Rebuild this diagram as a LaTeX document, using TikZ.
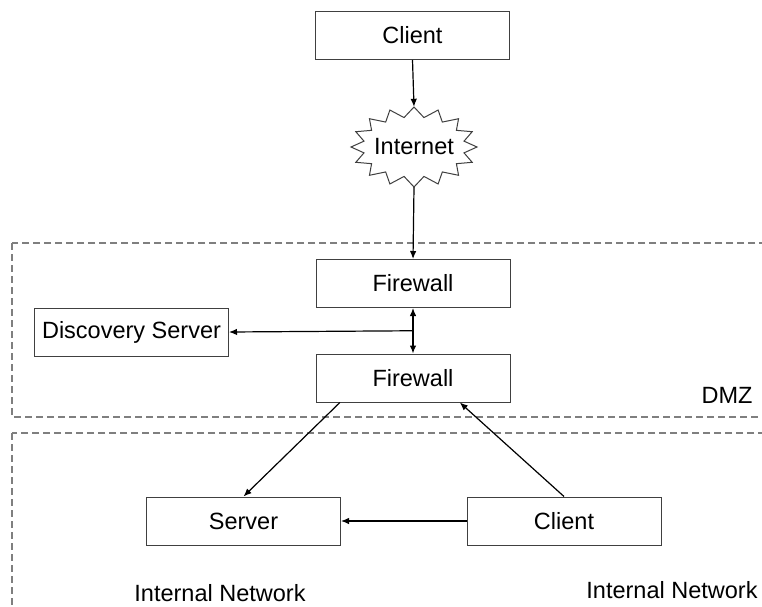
\documentclass[tikz,border=0pt]{standalone}
\usepackage{fontspec}
\setmainfont{Liberation Sans}
\usetikzlibrary{arrows.meta,calc,shapes.geometric}
\definecolor{boxline}{HTML}{404040}
\definecolor{dashgray}{HTML}{7F7F7F}
\tikzset{
  netbox/.style={draw=boxline, line width=1pt, fill=white, minimum width=194pt, minimum height=48pt, inner sep=0pt, font=\fontsize{23.5}{28}\selectfont},
  lbl/.style={inner sep=0pt, font=\fontsize{23.5}{28}\selectfont},
  zone/.style={draw=dashgray, line width=1.2pt, dash pattern=on 7pt off 4pt},
  conn/.style={draw=black, line width=1.2pt, -{Latex[length=8pt,width=6.5pt]}},
  dconn/.style={draw=black, line width=1.2pt, {Latex[length=8pt,width=6.5pt]}-{Latex[length=8pt,width=6.5pt]}}
}
\begin{document}
\begin{tikzpicture}[x=1pt,y=-1pt]
\useasboundingbox (0,0) rectangle (762,606);
\clip (0,0) rectangle (762,606);
\fill[white] (0,0) rectangle (762,606);
% zones
\draw[zone] (12,243) rectangle (820,417);
\draw[zone] (12,433) rectangle (820,700);
% nodes
\node[netbox] (client1) at (412.5,35.5) {Client};
\draw[boxline, line width=1pt, line join=miter]
  plot[samples at={0,...,31}] ({414+ifthenelse(mod(\x,2)==0,63,51)*sin(\x*11.25)}, {147-ifthenelse(mod(\x,2)==0,40,30)*cos(\x*11.25)}) -- cycle;
\node[ellipse, minimum width=126pt, minimum height=80pt, inner sep=0pt, lbl] (internet) at (414,147) {Internet};
\node[netbox] (fw1) at (413,283.5) {Firewall};
\node[netbox] (disc) at (131.5,332) {Discovery Server};
\node[netbox] (fw2) at (413,378) {Firewall};
\node[netbox] (server) at (243.5,521) {Server};
\node[netbox] (client2) at (564,521) {Client};
\node[lbl] (dmz) at (727,395) {DMZ};
\node[lbl] (int1) at (220,593) {Internal Network};
\node[lbl] (int2) at (672,590) {Internal Network};
% connectors
\draw[conn] (client1.south) -- (internet.north);
\draw[conn] (internet.south) -- (fw1.north);
\draw[dconn] (fw1.south) -- (fw2.north);
\coordinate (junc) at ($(fw1.south)!0.5!(fw2.north)$);
\draw[conn] (junc) -- (disc.east);
\coordinate (fwa) at ($(fw2.south west)!0.125!(fw2.south east)$);
\coordinate (fwb) at ($(fw2.south west)!0.74!(fw2.south east)$);
\draw[conn] (fwa) -- (server.north);
\draw[conn] (client2.north) -- (fwb);
\draw[conn] (client2.west) -- (server.east);
\end{tikzpicture}
\end{document}
